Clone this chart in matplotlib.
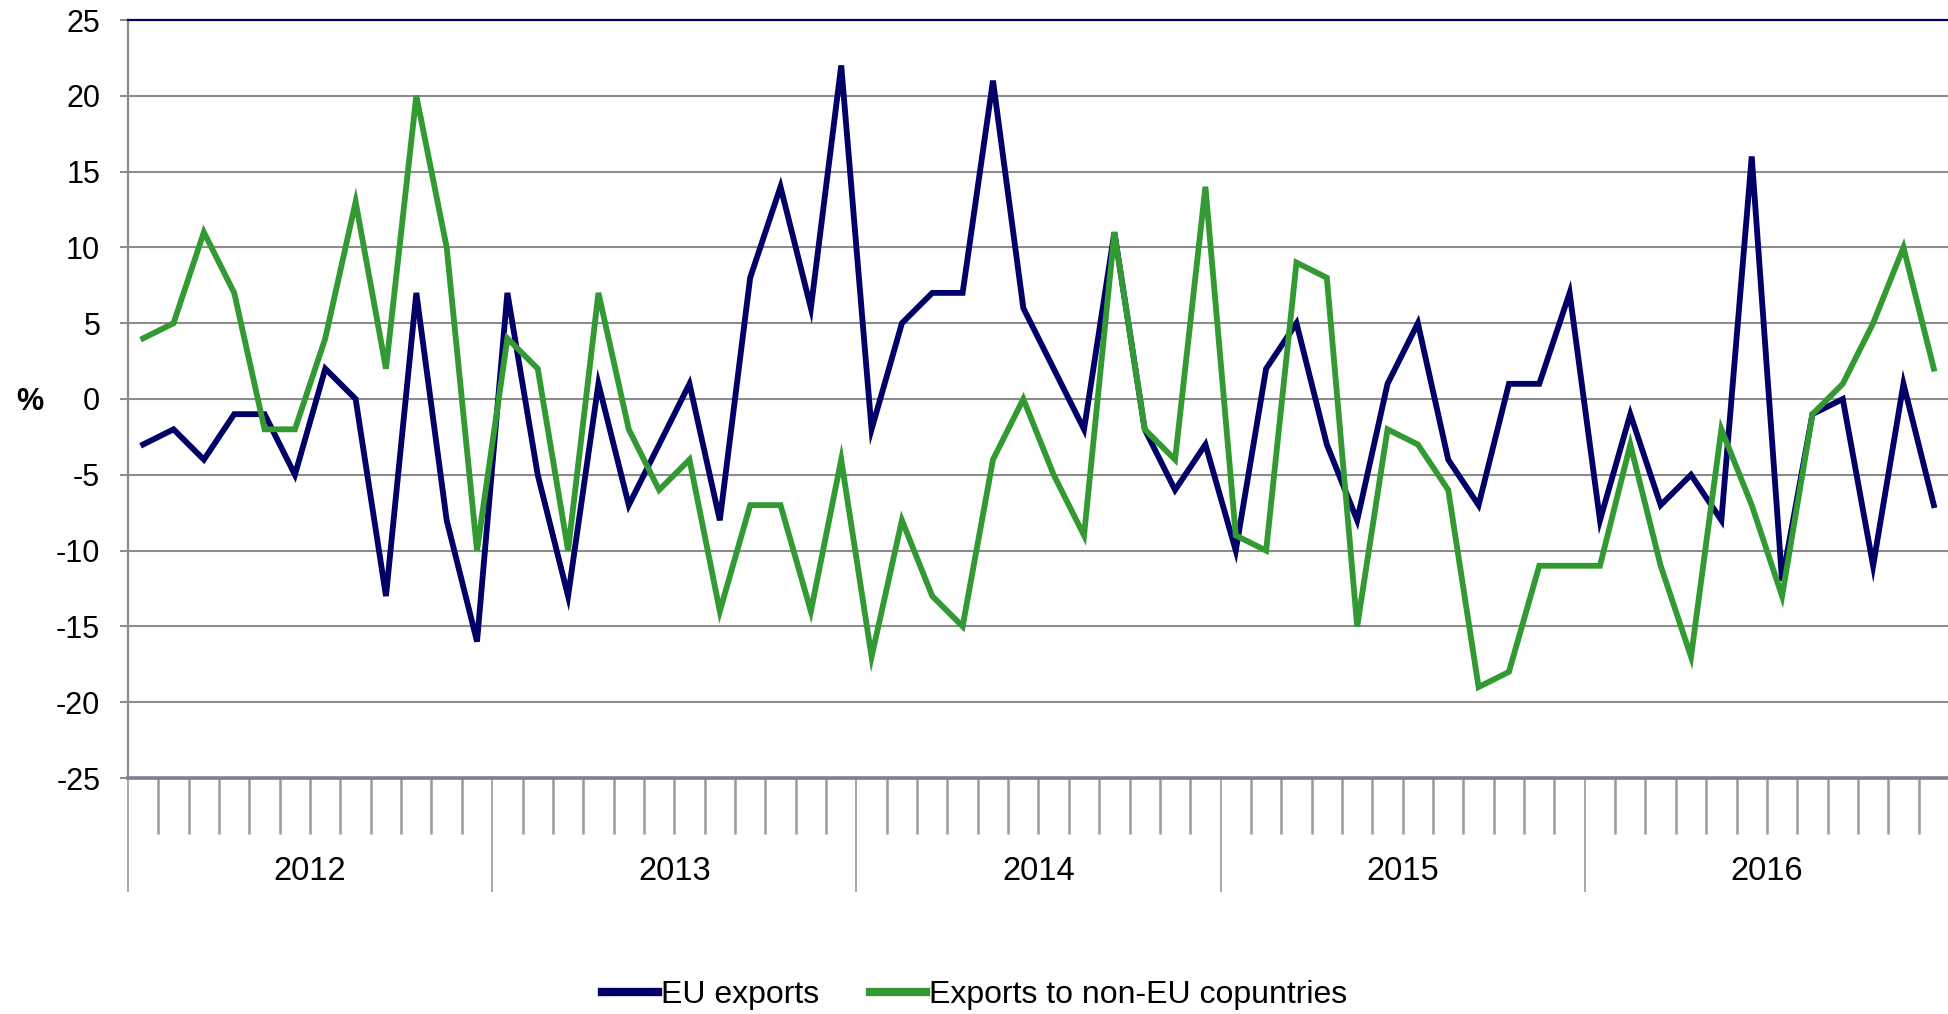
import matplotlib
matplotlib.use("Agg")
import matplotlib.pyplot as plt
import numpy as np
from matplotlib.ticker import FixedLocator

plt.rcParams['font.family'] = ['Liberation Sans', 'DejaVu Sans']

years = ["2012", "2013", "2014", "2015", "2016"]

eu_exports = [
    -3, -2, -4, -1, -1, -5, 2, 0, -13, 7, -8, -16,      # 2012
    7, -5, -13, 1, -7, -3, 1, -8, 8, 14, 6, 22,         # 2013
    -2, 5, 7, 7, 21, 6, 2, -2, 11, -2, -6, -3,          # 2014
    -10, 2, 5, -3, -8, 1, 5, -4, -7, 1, 1, 7,           # 2015
    -8, -1, -7, -5, -8, 16, -12, -1, 0, -11, 1, -7,     # 2016
]
non_eu_exports = [
    4, 5, 11, 7, -2, -2, 4, 13, 2, 20, 10, -10,         # 2012
    4, 2, -10, 7, -2, -6, -4, -14, -7, -7, -14, -4,     # 2013
    -17, -8, -13, -15, -4, 0, -5, -9, 11, -2, -4, 14,   # 2014
    -9, -10, 9, 8, -15, -2, -3, -6, -19, -18, -11, -11, # 2015
    -11, -3, -11, -17, -2, -7, -13, -1, 1, 5, 10, 2,    # 2016
]
series_names = ["EU exports", "Exports to non-EU copuntries"]
yticks = [-25, -20, -15, -10, -5, 0, 5, 10, 15, 20, 25]

W, H = 1949, 1014
fig = plt.figure(figsize=(W / 100, H / 100), dpi=100)
left_px, top_px, bottom_px = 128, 20, 778
ax = fig.add_axes([left_px / W, 1 - bottom_px / H, (W - left_px) / W, (bottom_px - top_px) / H])

n = len(eu_exports)
x = np.arange(n) + 0.5
navy = "#000066"
green = "#339933"
grid_c = "#8c8c8c"

ax.plot(x, eu_exports, color=navy, lw=4.2, solid_joinstyle='miter', label=series_names[0], zorder=3)
ax.plot(x, non_eu_exports, color=green, lw=4.2, solid_joinstyle='miter', label=series_names[1], zorder=3)

ax.set_xlim(0, n)
ax.set_ylim(-25, 25)

for v in yticks:
    if -25 < v < 25:
        ax.axhline(v, color=grid_c, lw=1.5, zorder=1)

ax.spines["right"].set_visible(False)
ax.spines["top"].set_color(navy)
ax.spines["top"].set_linewidth(1.6)
ax.spines["left"].set_color(grid_c)
ax.spines["left"].set_linewidth(1.6)
ax.spines["bottom"].set_color("#7f7f8f")
ax.spines["bottom"].set_linewidth(2.6)

ax.set_yticks(yticks)
ax.set_yticklabels([str(v) for v in yticks])
ax.tick_params(axis='y', direction='out', length=6, width=1.5, color=grid_c,
               labelsize=22, pad=14)

major = [12 * k for k in range(len(years))]
minor = [i for i in range(1, n) if i % 12 != 0]
ax.xaxis.set_major_locator(FixedLocator(major))
ax.xaxis.set_minor_locator(FixedLocator(minor))
ax.tick_params(axis='x', which='major', direction='out', length=82, width=1.2,
               color="#9a9a9a", labelbottom=False)
ax.tick_params(axis='x', which='minor', direction='out', length=40, width=1.8,
               color="#9a9a9a", labelbottom=False)

trans = matplotlib.transforms.blended_transform_factory(ax.transData, fig.transFigure)
for k, yr in enumerate(years):
    ax.text(12 * k + 6, 1 - 872 / H, yr, transform=trans, ha='center', va='center', fontsize=23.5)

fig.text(30 / W, 1 - 402 / H, "%", ha='center', va='center', fontsize=22, fontweight='bold')

leg = fig.legend(loc='center', bbox_to_anchor=(0.5, 1 - 995 / H), ncol=2, frameon=False,
                 fontsize=23, handlelength=1.75, handletextpad=0.1, columnspacing=1.6)
for h in leg.legend_handles:
    h.set_linewidth(6)

fig.savefig("out.png", dpi=100)
